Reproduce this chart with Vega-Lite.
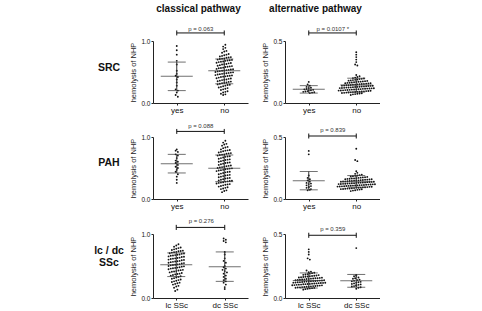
{
  "$schema": "https://vega.github.io/schema/vega-lite/v6.json",
  "padding": {"left": 94, "top": 3, "right": 0, "bottom": 0},
  "background": "white",
  "datasets": {
    "rows": [{"r": "SRC"}, {"r": "PAH"}, {"r": "lc / dc\nSSc"}],
    "st": [
      {"p": "cS", "g": "yes", "m": 0.43, "lo": 0.2, "hi": 0.66},
      {"p": "cS", "g": "no", "m": 0.52, "lo": 0.31, "hi": 0.71},
      {"p": "aS", "g": "yes", "m": 0.11, "lo": 0.08, "hi": 0.14},
      {"p": "aS", "g": "no", "m": 0.145, "lo": 0.088, "hi": 0.2},
      {"p": "cP", "g": "yes", "m": 0.57, "lo": 0.42, "hi": 0.72},
      {"p": "cP", "g": "no", "m": 0.495, "lo": 0.28, "hi": 0.71},
      {"p": "aP", "g": "yes", "m": 0.148, "lo": 0.074, "hi": 0.222},
      {"p": "aP", "g": "no", "m": 0.14, "lo": 0.095, "hi": 0.189},
      {"p": "cL", "g": "lc SSc", "m": 0.52, "lo": 0.335, "hi": 0.705},
      {"p": "cL", "g": "dc SSc", "m": 0.49, "lo": 0.26, "hi": 0.72},
      {"p": "aL", "g": "lc SSc", "m": 0.137, "lo": 0.078, "hi": 0.196},
      {"p": "aL", "g": "dc SSc", "m": 0.134, "lo": 0.084, "hi": 0.184}
    ],
    "pv": [
      {"p": "cS", "a": "yes", "b": "no", "t": "p = 0.063"},
      {"p": "aS", "a": "yes", "b": "no", "t": "p = 0.0107 *"},
      {"p": "cP", "a": "yes", "b": "no", "t": "p = 0.088"},
      {"p": "aP", "a": "yes", "b": "no", "t": "p = 0.839"},
      {"p": "cL", "a": "lc SSc", "b": "dc SSc", "t": "p = 0.276"},
      {"p": "aL", "a": "lc SSc", "b": "dc SSc", "t": "p = 0.359"}
    ],
    "pts": [
      {"p":"cS","g":"yes","v":0.92},{"p":"cS","g":"yes","v":0.85},{"p":"cS","g":"yes","v":0.78},{"p":"cS","g":"yes","v":0.68},{"p":"cS","g":"yes","v":0.62},{"p":"cS","g":"yes","v":0.52},{"p":"cS","g":"yes","v":0.47},{"p":"cS","g":"yes","v":0.44},{"p":"cS","g":"yes","v":0.42},{"p":"cS","g":"yes","v":0.38},{"p":"cS","g":"yes","v":0.33},{"p":"cS","g":"yes","v":0.28},{"p":"cS","g":"yes","v":0.22},{"p":"cS","g":"yes","v":0.2},{"p":"cS","g":"yes","v":0.17},{"p":"cS","g":"yes","v":0.13},{"p":"cS","g":"yes","v":0.1},
      {"p":"cS","g":"no","v":0.13},{"p":"cS","g":"no","v":0.14},{"p":"cS","g":"no","v":0.15},{"p":"cS","g":"no","v":0.17},{"p":"cS","g":"no","v":0.18},{"p":"cS","g":"no","v":0.19},{"p":"cS","g":"no","v":0.21},{"p":"cS","g":"no","v":0.22},{"p":"cS","g":"no","v":0.23},{"p":"cS","g":"no","v":0.24},
      {"p":"cS","g":"no","v":0.25},{"p":"cS","g":"no","v":0.26},{"p":"cS","g":"no","v":0.27},{"p":"cS","g":"no","v":0.28},{"p":"cS","g":"no","v":0.29},{"p":"cS","g":"no","v":0.295},{"p":"cS","g":"no","v":0.3},{"p":"cS","g":"no","v":0.31},{"p":"cS","g":"no","v":0.32},{"p":"cS","g":"no","v":0.325},{"p":"cS","g":"no","v":0.33},{"p":"cS","g":"no","v":0.34},{"p":"cS","g":"no","v":0.345},
      {"p":"cS","g":"no","v":0.35},{"p":"cS","g":"no","v":0.36},{"p":"cS","g":"no","v":0.37},{"p":"cS","g":"no","v":0.375},{"p":"cS","g":"no","v":0.38},{"p":"cS","g":"no","v":0.39},{"p":"cS","g":"no","v":0.395},{"p":"cS","g":"no","v":0.4},{"p":"cS","g":"no","v":0.41},{"p":"cS","g":"no","v":0.42},{"p":"cS","g":"no","v":0.425},{"p":"cS","g":"no","v":0.43},{"p":"cS","g":"no","v":0.435},{"p":"cS","g":"no","v":0.44},{"p":"cS","g":"no","v":0.445},
      {"p":"cS","g":"no","v":0.45},{"p":"cS","g":"no","v":0.46},{"p":"cS","g":"no","v":0.465},{"p":"cS","g":"no","v":0.47},{"p":"cS","g":"no","v":0.475},{"p":"cS","g":"no","v":0.48},{"p":"cS","g":"no","v":0.485},{"p":"cS","g":"no","v":0.49},{"p":"cS","g":"no","v":0.495},
      {"p":"cS","g":"no","v":0.5},{"p":"cS","g":"no","v":0.51},{"p":"cS","g":"no","v":0.515},{"p":"cS","g":"no","v":0.52},{"p":"cS","g":"no","v":0.525},{"p":"cS","g":"no","v":0.53},{"p":"cS","g":"no","v":0.535},{"p":"cS","g":"no","v":0.54},{"p":"cS","g":"no","v":0.545},
      {"p":"cS","g":"no","v":0.55},{"p":"cS","g":"no","v":0.56},{"p":"cS","g":"no","v":0.565},{"p":"cS","g":"no","v":0.57},{"p":"cS","g":"no","v":0.58},{"p":"cS","g":"no","v":0.585},{"p":"cS","g":"no","v":0.59},{"p":"cS","g":"no","v":0.595},
      {"p":"cS","g":"no","v":0.6},{"p":"cS","g":"no","v":0.61},{"p":"cS","g":"no","v":0.62},{"p":"cS","g":"no","v":0.625},{"p":"cS","g":"no","v":0.63},{"p":"cS","g":"no","v":0.64},{"p":"cS","g":"no","v":0.645},
      {"p":"cS","g":"no","v":0.65},{"p":"cS","g":"no","v":0.66},{"p":"cS","g":"no","v":0.665},{"p":"cS","g":"no","v":0.67},{"p":"cS","g":"no","v":0.68},{"p":"cS","g":"no","v":0.685},{"p":"cS","g":"no","v":0.69},{"p":"cS","g":"no","v":0.695},
      {"p":"cS","g":"no","v":0.7},{"p":"cS","g":"no","v":0.71},{"p":"cS","g":"no","v":0.715},{"p":"cS","g":"no","v":0.72},{"p":"cS","g":"no","v":0.73},{"p":"cS","g":"no","v":0.735},{"p":"cS","g":"no","v":0.74},
      {"p":"cS","g":"no","v":0.75},{"p":"cS","g":"no","v":0.76},{"p":"cS","g":"no","v":0.77},{"p":"cS","g":"no","v":0.78},{"p":"cS","g":"no","v":0.79},{"p":"cS","g":"no","v":0.81},{"p":"cS","g":"no","v":0.83},{"p":"cS","g":"no","v":0.84},{"p":"cS","g":"no","v":0.87},{"p":"cS","g":"no","v":0.89},{"p":"cS","g":"no","v":0.91},{"p":"cS","g":"no","v":0.94},

      {"p":"aS","g":"yes","v":0.17},{"p":"aS","g":"yes","v":0.15},{"p":"aS","g":"yes","v":0.14},{"p":"aS","g":"yes","v":0.13},{"p":"aS","g":"yes","v":0.12},{"p":"aS","g":"yes","v":0.123},{"p":"aS","g":"yes","v":0.11},{"p":"aS","g":"yes","v":0.113},{"p":"aS","g":"yes","v":0.1},{"p":"aS","g":"yes","v":0.103},{"p":"aS","g":"yes","v":0.106},{"p":"aS","g":"yes","v":0.09},{"p":"aS","g":"yes","v":0.093},{"p":"aS","g":"yes","v":0.096},{"p":"aS","g":"yes","v":0.08},{"p":"aS","g":"yes","v":0.084},{"p":"aS","g":"yes","v":0.087},
      {"p":"aS","g":"no","v":0.41},{"p":"aS","g":"no","v":0.39},{"p":"aS","g":"no","v":0.37},{"p":"aS","g":"no","v":0.35},{"p":"aS","g":"no","v":0.33},{"p":"aS","g":"no","v":0.31},{"p":"aS","g":"no","v":0.302},{"p":"aS","g":"no","v":0.226},
      {"p":"aS","g":"no","v":0.065},{"p":"aS","g":"no","v":0.07},{"p":"aS","g":"no","v":0.072},{"p":"aS","g":"no","v":0.075},{"p":"aS","g":"no","v":0.077},{"p":"aS","g":"no","v":0.079},
      {"p":"aS","g":"no","v":0.081},{"p":"aS","g":"no","v":0.082},{"p":"aS","g":"no","v":0.084},{"p":"aS","g":"no","v":0.085},{"p":"aS","g":"no","v":0.086},{"p":"aS","g":"no","v":0.088},{"p":"aS","g":"no","v":0.089},{"p":"aS","g":"no","v":0.09},{"p":"aS","g":"no","v":0.091},{"p":"aS","g":"no","v":0.093},{"p":"aS","g":"no","v":0.094},{"p":"aS","g":"no","v":0.096},{"p":"aS","g":"no","v":0.097},{"p":"aS","g":"no","v":0.099},
      {"p":"aS","g":"no","v":0.1},{"p":"aS","g":"no","v":0.101},{"p":"aS","g":"no","v":0.102},{"p":"aS","g":"no","v":0.104},{"p":"aS","g":"no","v":0.105},{"p":"aS","g":"no","v":0.106},{"p":"aS","g":"no","v":0.108},{"p":"aS","g":"no","v":0.109},{"p":"aS","g":"no","v":0.11},{"p":"aS","g":"no","v":0.111},{"p":"aS","g":"no","v":0.112},{"p":"aS","g":"no","v":0.114},{"p":"aS","g":"no","v":0.115},{"p":"aS","g":"no","v":0.116},{"p":"aS","g":"no","v":0.117},{"p":"aS","g":"no","v":0.118},{"p":"aS","g":"no","v":0.119},
      {"p":"aS","g":"no","v":0.12},{"p":"aS","g":"no","v":0.121},{"p":"aS","g":"no","v":0.122},{"p":"aS","g":"no","v":0.124},{"p":"aS","g":"no","v":0.125},{"p":"aS","g":"no","v":0.126},{"p":"aS","g":"no","v":0.128},{"p":"aS","g":"no","v":0.129},{"p":"aS","g":"no","v":0.13},{"p":"aS","g":"no","v":0.131},{"p":"aS","g":"no","v":0.133},{"p":"aS","g":"no","v":0.134},{"p":"aS","g":"no","v":0.135},{"p":"aS","g":"no","v":0.137},{"p":"aS","g":"no","v":0.138},{"p":"aS","g":"no","v":0.139},
      {"p":"aS","g":"no","v":0.14},{"p":"aS","g":"no","v":0.141},{"p":"aS","g":"no","v":0.143},{"p":"aS","g":"no","v":0.144},{"p":"aS","g":"no","v":0.145},{"p":"aS","g":"no","v":0.147},{"p":"aS","g":"no","v":0.148},{"p":"aS","g":"no","v":0.15},{"p":"aS","g":"no","v":0.151},{"p":"aS","g":"no","v":0.153},{"p":"aS","g":"no","v":0.154},{"p":"aS","g":"no","v":0.156},{"p":"aS","g":"no","v":0.157},{"p":"aS","g":"no","v":0.159},
      {"p":"aS","g":"no","v":0.16},{"p":"aS","g":"no","v":0.162},{"p":"aS","g":"no","v":0.163},{"p":"aS","g":"no","v":0.165},{"p":"aS","g":"no","v":0.167},{"p":"aS","g":"no","v":0.169},{"p":"aS","g":"no","v":0.171},{"p":"aS","g":"no","v":0.172},{"p":"aS","g":"no","v":0.174},{"p":"aS","g":"no","v":0.176},{"p":"aS","g":"no","v":0.178},
      {"p":"aS","g":"no","v":0.18},{"p":"aS","g":"no","v":0.182},{"p":"aS","g":"no","v":0.185},{"p":"aS","g":"no","v":0.187},{"p":"aS","g":"no","v":0.19},{"p":"aS","g":"no","v":0.193},{"p":"aS","g":"no","v":0.195},{"p":"aS","g":"no","v":0.198},
      {"p":"aS","g":"no","v":0.201},{"p":"aS","g":"no","v":0.205},{"p":"aS","g":"no","v":0.21},{"p":"aS","g":"no","v":0.216},

      {"p":"cP","g":"yes","v":0.8},{"p":"cP","g":"yes","v":0.78},{"p":"cP","g":"yes","v":0.76},{"p":"cP","g":"yes","v":0.72},{"p":"cP","g":"yes","v":0.7},{"p":"cP","g":"yes","v":0.66},{"p":"cP","g":"yes","v":0.62},{"p":"cP","g":"yes","v":0.6},{"p":"cP","g":"yes","v":0.58},{"p":"cP","g":"yes","v":0.55},{"p":"cP","g":"yes","v":0.52},{"p":"cP","g":"yes","v":0.5},{"p":"cP","g":"yes","v":0.47},{"p":"cP","g":"yes","v":0.44},{"p":"cP","g":"yes","v":0.4},{"p":"cP","g":"yes","v":0.36},{"p":"cP","g":"yes","v":0.31},{"p":"cP","g":"yes","v":0.26},
      {"p":"cP","g":"no","v":0.11},{"p":"cP","g":"no","v":0.13},{"p":"cP","g":"no","v":0.14},{"p":"cP","g":"no","v":0.16},{"p":"cP","g":"no","v":0.17},{"p":"cP","g":"no","v":0.18},{"p":"cP","g":"no","v":0.19},
      {"p":"cP","g":"no","v":0.2},{"p":"cP","g":"no","v":0.21},{"p":"cP","g":"no","v":0.22},{"p":"cP","g":"no","v":0.23},{"p":"cP","g":"no","v":0.235},{"p":"cP","g":"no","v":0.24},
      {"p":"cP","g":"no","v":0.25},{"p":"cP","g":"no","v":0.26},{"p":"cP","g":"no","v":0.265},{"p":"cP","g":"no","v":0.27},{"p":"cP","g":"no","v":0.28},{"p":"cP","g":"no","v":0.285},{"p":"cP","g":"no","v":0.29},{"p":"cP","g":"no","v":0.295},
      {"p":"cP","g":"no","v":0.3},{"p":"cP","g":"no","v":0.31},{"p":"cP","g":"no","v":0.32},{"p":"cP","g":"no","v":0.33},{"p":"cP","g":"no","v":0.335},{"p":"cP","g":"no","v":0.34},
      {"p":"cP","g":"no","v":0.35},{"p":"cP","g":"no","v":0.36},{"p":"cP","g":"no","v":0.37},{"p":"cP","g":"no","v":0.38},{"p":"cP","g":"no","v":0.385},{"p":"cP","g":"no","v":0.39},
      {"p":"cP","g":"no","v":0.4},{"p":"cP","g":"no","v":0.41},{"p":"cP","g":"no","v":0.42},{"p":"cP","g":"no","v":0.43},{"p":"cP","g":"no","v":0.435},{"p":"cP","g":"no","v":0.44},
      {"p":"cP","g":"no","v":0.45},{"p":"cP","g":"no","v":0.46},{"p":"cP","g":"no","v":0.465},{"p":"cP","g":"no","v":0.47},{"p":"cP","g":"no","v":0.48},{"p":"cP","g":"no","v":0.485},{"p":"cP","g":"no","v":0.49},{"p":"cP","g":"no","v":0.495},
      {"p":"cP","g":"no","v":0.5},{"p":"cP","g":"no","v":0.51},{"p":"cP","g":"no","v":0.515},{"p":"cP","g":"no","v":0.52},{"p":"cP","g":"no","v":0.53},{"p":"cP","g":"no","v":0.535},{"p":"cP","g":"no","v":0.54},
      {"p":"cP","g":"no","v":0.55},{"p":"cP","g":"no","v":0.56},{"p":"cP","g":"no","v":0.57},{"p":"cP","g":"no","v":0.58},{"p":"cP","g":"no","v":0.585},{"p":"cP","g":"no","v":0.59},
      {"p":"cP","g":"no","v":0.6},{"p":"cP","g":"no","v":0.61},{"p":"cP","g":"no","v":0.62},{"p":"cP","g":"no","v":0.63},{"p":"cP","g":"no","v":0.635},{"p":"cP","g":"no","v":0.64},
      {"p":"cP","g":"no","v":0.65},{"p":"cP","g":"no","v":0.66},{"p":"cP","g":"no","v":0.67},{"p":"cP","g":"no","v":0.68},{"p":"cP","g":"no","v":0.685},{"p":"cP","g":"no","v":0.69},
      {"p":"cP","g":"no","v":0.7},{"p":"cP","g":"no","v":0.71},{"p":"cP","g":"no","v":0.715},{"p":"cP","g":"no","v":0.72},{"p":"cP","g":"no","v":0.73},{"p":"cP","g":"no","v":0.735},{"p":"cP","g":"no","v":0.74},
      {"p":"cP","g":"no","v":0.75},{"p":"cP","g":"no","v":0.76},{"p":"cP","g":"no","v":0.77},{"p":"cP","g":"no","v":0.78},{"p":"cP","g":"no","v":0.785},{"p":"cP","g":"no","v":0.79},
      {"p":"cP","g":"no","v":0.8},{"p":"cP","g":"no","v":0.82},{"p":"cP","g":"no","v":0.83},{"p":"cP","g":"no","v":0.84},{"p":"cP","g":"no","v":0.86},{"p":"cP","g":"no","v":0.88},{"p":"cP","g":"no","v":0.89},{"p":"cP","g":"no","v":0.91},{"p":"cP","g":"no","v":0.94},

      {"p":"aP","g":"yes","v":0.388},{"p":"aP","g":"yes","v":0.36},{"p":"aP","g":"yes","v":0.19},{"p":"aP","g":"yes","v":0.17},{"p":"aP","g":"yes","v":0.16},{"p":"aP","g":"yes","v":0.15},{"p":"aP","g":"yes","v":0.14},{"p":"aP","g":"yes","v":0.13},{"p":"aP","g":"yes","v":0.12},{"p":"aP","g":"yes","v":0.124},{"p":"aP","g":"yes","v":0.11},{"p":"aP","g":"yes","v":0.1},{"p":"aP","g":"yes","v":0.104},{"p":"aP","g":"yes","v":0.09},{"p":"aP","g":"yes","v":0.094},{"p":"aP","g":"yes","v":0.08},{"p":"aP","g":"yes","v":0.07},{"p":"aP","g":"yes","v":0.074},
      {"p":"aP","g":"no","v":0.405},{"p":"aP","g":"no","v":0.315},{"p":"aP","g":"no","v":0.305},{"p":"aP","g":"no","v":0.224},
      {"p":"aP","g":"no","v":0.064},{"p":"aP","g":"no","v":0.068},{"p":"aP","g":"no","v":0.071},{"p":"aP","g":"no","v":0.074},{"p":"aP","g":"no","v":0.076},{"p":"aP","g":"no","v":0.079},
      {"p":"aP","g":"no","v":0.08},{"p":"aP","g":"no","v":0.081},{"p":"aP","g":"no","v":0.083},{"p":"aP","g":"no","v":0.084},{"p":"aP","g":"no","v":0.085},{"p":"aP","g":"no","v":0.087},{"p":"aP","g":"no","v":0.088},{"p":"aP","g":"no","v":0.09},{"p":"aP","g":"no","v":0.091},{"p":"aP","g":"no","v":0.092},{"p":"aP","g":"no","v":0.094},{"p":"aP","g":"no","v":0.095},{"p":"aP","g":"no","v":0.096},{"p":"aP","g":"no","v":0.098},{"p":"aP","g":"no","v":0.099},
      {"p":"aP","g":"no","v":0.1},{"p":"aP","g":"no","v":0.101},{"p":"aP","g":"no","v":0.102},{"p":"aP","g":"no","v":0.103},{"p":"aP","g":"no","v":0.105},{"p":"aP","g":"no","v":0.106},{"p":"aP","g":"no","v":0.107},{"p":"aP","g":"no","v":0.108},{"p":"aP","g":"no","v":0.109},{"p":"aP","g":"no","v":0.11},{"p":"aP","g":"no","v":0.111},{"p":"aP","g":"no","v":0.112},{"p":"aP","g":"no","v":0.113},{"p":"aP","g":"no","v":0.115},{"p":"aP","g":"no","v":0.116},{"p":"aP","g":"no","v":0.117},{"p":"aP","g":"no","v":0.118},{"p":"aP","g":"no","v":0.119},
      {"p":"aP","g":"no","v":0.12},{"p":"aP","g":"no","v":0.121},{"p":"aP","g":"no","v":0.122},{"p":"aP","g":"no","v":0.123},{"p":"aP","g":"no","v":0.125},{"p":"aP","g":"no","v":0.126},{"p":"aP","g":"no","v":0.127},{"p":"aP","g":"no","v":0.128},{"p":"aP","g":"no","v":0.13},{"p":"aP","g":"no","v":0.131},{"p":"aP","g":"no","v":0.132},{"p":"aP","g":"no","v":0.133},{"p":"aP","g":"no","v":0.134},{"p":"aP","g":"no","v":0.136},{"p":"aP","g":"no","v":0.137},{"p":"aP","g":"no","v":0.138},{"p":"aP","g":"no","v":0.139},
      {"p":"aP","g":"no","v":0.14},{"p":"aP","g":"no","v":0.141},{"p":"aP","g":"no","v":0.142},{"p":"aP","g":"no","v":0.144},{"p":"aP","g":"no","v":0.145},{"p":"aP","g":"no","v":0.146},{"p":"aP","g":"no","v":0.148},{"p":"aP","g":"no","v":0.149},{"p":"aP","g":"no","v":0.15},{"p":"aP","g":"no","v":0.152},{"p":"aP","g":"no","v":0.153},{"p":"aP","g":"no","v":0.155},{"p":"aP","g":"no","v":0.156},{"p":"aP","g":"no","v":0.157},{"p":"aP","g":"no","v":0.159},
      {"p":"aP","g":"no","v":0.16},{"p":"aP","g":"no","v":0.162},{"p":"aP","g":"no","v":0.163},{"p":"aP","g":"no","v":0.165},{"p":"aP","g":"no","v":0.166},{"p":"aP","g":"no","v":0.168},{"p":"aP","g":"no","v":0.17},{"p":"aP","g":"no","v":0.172},{"p":"aP","g":"no","v":0.174},{"p":"aP","g":"no","v":0.176},{"p":"aP","g":"no","v":0.178},
      {"p":"aP","g":"no","v":0.181},{"p":"aP","g":"no","v":0.184},{"p":"aP","g":"no","v":0.187},{"p":"aP","g":"no","v":0.19},{"p":"aP","g":"no","v":0.193},{"p":"aP","g":"no","v":0.197},{"p":"aP","g":"no","v":0.203},{"p":"aP","g":"no","v":0.211},

      {"p":"cL","g":"lc SSc","v":0.11},{"p":"cL","g":"lc SSc","v":0.13},{"p":"cL","g":"lc SSc","v":0.16},{"p":"cL","g":"lc SSc","v":0.18},{"p":"cL","g":"lc SSc","v":0.19},{"p":"cL","g":"lc SSc","v":0.21},{"p":"cL","g":"lc SSc","v":0.22},{"p":"cL","g":"lc SSc","v":0.23},{"p":"cL","g":"lc SSc","v":0.24},
      {"p":"cL","g":"lc SSc","v":0.25},{"p":"cL","g":"lc SSc","v":0.26},{"p":"cL","g":"lc SSc","v":0.27},{"p":"cL","g":"lc SSc","v":0.28},{"p":"cL","g":"lc SSc","v":0.29},
      {"p":"cL","g":"lc SSc","v":0.3},{"p":"cL","g":"lc SSc","v":0.31},{"p":"cL","g":"lc SSc","v":0.32},{"p":"cL","g":"lc SSc","v":0.33},{"p":"cL","g":"lc SSc","v":0.34},
      {"p":"cL","g":"lc SSc","v":0.35},{"p":"cL","g":"lc SSc","v":0.36},{"p":"cL","g":"lc SSc","v":0.37},{"p":"cL","g":"lc SSc","v":0.375},{"p":"cL","g":"lc SSc","v":0.38},{"p":"cL","g":"lc SSc","v":0.39},
      {"p":"cL","g":"lc SSc","v":0.4},{"p":"cL","g":"lc SSc","v":0.41},{"p":"cL","g":"lc SSc","v":0.415},{"p":"cL","g":"lc SSc","v":0.42},{"p":"cL","g":"lc SSc","v":0.43},{"p":"cL","g":"lc SSc","v":0.435},{"p":"cL","g":"lc SSc","v":0.44},
      {"p":"cL","g":"lc SSc","v":0.45},{"p":"cL","g":"lc SSc","v":0.46},{"p":"cL","g":"lc SSc","v":0.465},{"p":"cL","g":"lc SSc","v":0.47},{"p":"cL","g":"lc SSc","v":0.475},{"p":"cL","g":"lc SSc","v":0.48},{"p":"cL","g":"lc SSc","v":0.49},{"p":"cL","g":"lc SSc","v":0.495},
      {"p":"cL","g":"lc SSc","v":0.5},{"p":"cL","g":"lc SSc","v":0.51},{"p":"cL","g":"lc SSc","v":0.515},{"p":"cL","g":"lc SSc","v":0.52},{"p":"cL","g":"lc SSc","v":0.525},{"p":"cL","g":"lc SSc","v":0.53},{"p":"cL","g":"lc SSc","v":0.54},{"p":"cL","g":"lc SSc","v":0.545},
      {"p":"cL","g":"lc SSc","v":0.55},{"p":"cL","g":"lc SSc","v":0.56},{"p":"cL","g":"lc SSc","v":0.565},{"p":"cL","g":"lc SSc","v":0.57},{"p":"cL","g":"lc SSc","v":0.575},{"p":"cL","g":"lc SSc","v":0.58},{"p":"cL","g":"lc SSc","v":0.59},{"p":"cL","g":"lc SSc","v":0.595},
      {"p":"cL","g":"lc SSc","v":0.6},{"p":"cL","g":"lc SSc","v":0.61},{"p":"cL","g":"lc SSc","v":0.615},{"p":"cL","g":"lc SSc","v":0.62},{"p":"cL","g":"lc SSc","v":0.625},{"p":"cL","g":"lc SSc","v":0.63},{"p":"cL","g":"lc SSc","v":0.64},{"p":"cL","g":"lc SSc","v":0.645},
      {"p":"cL","g":"lc SSc","v":0.65},{"p":"cL","g":"lc SSc","v":0.66},{"p":"cL","g":"lc SSc","v":0.665},{"p":"cL","g":"lc SSc","v":0.67},{"p":"cL","g":"lc SSc","v":0.675},{"p":"cL","g":"lc SSc","v":0.68},{"p":"cL","g":"lc SSc","v":0.69},{"p":"cL","g":"lc SSc","v":0.695},
      {"p":"cL","g":"lc SSc","v":0.7},{"p":"cL","g":"lc SSc","v":0.71},{"p":"cL","g":"lc SSc","v":0.715},{"p":"cL","g":"lc SSc","v":0.72},{"p":"cL","g":"lc SSc","v":0.73},{"p":"cL","g":"lc SSc","v":0.735},{"p":"cL","g":"lc SSc","v":0.74},
      {"p":"cL","g":"lc SSc","v":0.75},{"p":"cL","g":"lc SSc","v":0.76},{"p":"cL","g":"lc SSc","v":0.77},{"p":"cL","g":"lc SSc","v":0.78},{"p":"cL","g":"lc SSc","v":0.79},{"p":"cL","g":"lc SSc","v":0.8},{"p":"cL","g":"lc SSc","v":0.82},{"p":"cL","g":"lc SSc","v":0.84},
      {"p":"cL","g":"dc SSc","v":0.93},{"p":"cL","g":"dc SSc","v":0.91},{"p":"cL","g":"dc SSc","v":0.89},{"p":"cL","g":"dc SSc","v":0.87},{"p":"cL","g":"dc SSc","v":0.72},{"p":"cL","g":"dc SSc","v":0.68},{"p":"cL","g":"dc SSc","v":0.62},{"p":"cL","g":"dc SSc","v":0.58},{"p":"cL","g":"dc SSc","v":0.55},{"p":"cL","g":"dc SSc","v":0.5},{"p":"cL","g":"dc SSc","v":0.48},{"p":"cL","g":"dc SSc","v":0.46},{"p":"cL","g":"dc SSc","v":0.44},{"p":"cL","g":"dc SSc","v":0.42},{"p":"cL","g":"dc SSc","v":0.4},{"p":"cL","g":"dc SSc","v":0.38},{"p":"cL","g":"dc SSc","v":0.35},{"p":"cL","g":"dc SSc","v":0.33},{"p":"cL","g":"dc SSc","v":0.3},{"p":"cL","g":"dc SSc","v":0.28},{"p":"cL","g":"dc SSc","v":0.26},{"p":"cL","g":"dc SSc","v":0.24},{"p":"cL","g":"dc SSc","v":0.21},{"p":"cL","g":"dc SSc","v":0.17},{"p":"cL","g":"dc SSc","v":0.14},

      {"p":"aL","g":"lc SSc","v":0.38},{"p":"aL","g":"lc SSc","v":0.36},{"p":"aL","g":"lc SSc","v":0.34},{"p":"aL","g":"lc SSc","v":0.31},{"p":"aL","g":"lc SSc","v":0.3},{"p":"aL","g":"lc SSc","v":0.215},
      {"p":"aL","g":"lc SSc","v":0.065},{"p":"aL","g":"lc SSc","v":0.069},{"p":"aL","g":"lc SSc","v":0.072},{"p":"aL","g":"lc SSc","v":0.075},{"p":"aL","g":"lc SSc","v":0.077},{"p":"aL","g":"lc SSc","v":0.079},
      {"p":"aL","g":"lc SSc","v":0.08},{"p":"aL","g":"lc SSc","v":0.082},{"p":"aL","g":"lc SSc","v":0.083},{"p":"aL","g":"lc SSc","v":0.085},{"p":"aL","g":"lc SSc","v":0.086},{"p":"aL","g":"lc SSc","v":0.088},{"p":"aL","g":"lc SSc","v":0.089},{"p":"aL","g":"lc SSc","v":0.091},{"p":"aL","g":"lc SSc","v":0.093},{"p":"aL","g":"lc SSc","v":0.094},{"p":"aL","g":"lc SSc","v":0.096},{"p":"aL","g":"lc SSc","v":0.097},{"p":"aL","g":"lc SSc","v":0.099},
      {"p":"aL","g":"lc SSc","v":0.1},{"p":"aL","g":"lc SSc","v":0.101},{"p":"aL","g":"lc SSc","v":0.103},{"p":"aL","g":"lc SSc","v":0.104},{"p":"aL","g":"lc SSc","v":0.105},{"p":"aL","g":"lc SSc","v":0.107},{"p":"aL","g":"lc SSc","v":0.108},{"p":"aL","g":"lc SSc","v":0.109},{"p":"aL","g":"lc SSc","v":0.11},{"p":"aL","g":"lc SSc","v":0.112},{"p":"aL","g":"lc SSc","v":0.113},{"p":"aL","g":"lc SSc","v":0.114},{"p":"aL","g":"lc SSc","v":0.116},{"p":"aL","g":"lc SSc","v":0.117},{"p":"aL","g":"lc SSc","v":0.118},{"p":"aL","g":"lc SSc","v":0.119},
      {"p":"aL","g":"lc SSc","v":0.12},{"p":"aL","g":"lc SSc","v":0.121},{"p":"aL","g":"lc SSc","v":0.123},{"p":"aL","g":"lc SSc","v":0.124},{"p":"aL","g":"lc SSc","v":0.125},{"p":"aL","g":"lc SSc","v":0.127},{"p":"aL","g":"lc SSc","v":0.128},{"p":"aL","g":"lc SSc","v":0.129},{"p":"aL","g":"lc SSc","v":0.13},{"p":"aL","g":"lc SSc","v":0.132},{"p":"aL","g":"lc SSc","v":0.133},{"p":"aL","g":"lc SSc","v":0.135},{"p":"aL","g":"lc SSc","v":0.136},{"p":"aL","g":"lc SSc","v":0.137},{"p":"aL","g":"lc SSc","v":0.139},
      {"p":"aL","g":"lc SSc","v":0.14},{"p":"aL","g":"lc SSc","v":0.142},{"p":"aL","g":"lc SSc","v":0.143},{"p":"aL","g":"lc SSc","v":0.145},{"p":"aL","g":"lc SSc","v":0.146},{"p":"aL","g":"lc SSc","v":0.148},{"p":"aL","g":"lc SSc","v":0.149},{"p":"aL","g":"lc SSc","v":0.151},{"p":"aL","g":"lc SSc","v":0.152},{"p":"aL","g":"lc SSc","v":0.154},{"p":"aL","g":"lc SSc","v":0.155},{"p":"aL","g":"lc SSc","v":0.157},{"p":"aL","g":"lc SSc","v":0.159},
      {"p":"aL","g":"lc SSc","v":0.16},{"p":"aL","g":"lc SSc","v":0.162},{"p":"aL","g":"lc SSc","v":0.164},{"p":"aL","g":"lc SSc","v":0.166},{"p":"aL","g":"lc SSc","v":0.168},{"p":"aL","g":"lc SSc","v":0.17},{"p":"aL","g":"lc SSc","v":0.172},{"p":"aL","g":"lc SSc","v":0.174},{"p":"aL","g":"lc SSc","v":0.176},{"p":"aL","g":"lc SSc","v":0.179},
      {"p":"aL","g":"lc SSc","v":0.181},{"p":"aL","g":"lc SSc","v":0.184},{"p":"aL","g":"lc SSc","v":0.187},{"p":"aL","g":"lc SSc","v":0.19},{"p":"aL","g":"lc SSc","v":0.194},{"p":"aL","g":"lc SSc","v":0.197},{"p":"aL","g":"lc SSc","v":0.201},{"p":"aL","g":"lc SSc","v":0.206},
      {"p":"aL","g":"dc SSc","v":0.39},{"p":"aL","g":"dc SSc","v":0.18},{"p":"aL","g":"dc SSc","v":0.17},{"p":"aL","g":"dc SSc","v":0.174},{"p":"aL","g":"dc SSc","v":0.16},{"p":"aL","g":"dc SSc","v":0.15},{"p":"aL","g":"dc SSc","v":0.154},{"p":"aL","g":"dc SSc","v":0.14},{"p":"aL","g":"dc SSc","v":0.144},{"p":"aL","g":"dc SSc","v":0.13},{"p":"aL","g":"dc SSc","v":0.134},{"p":"aL","g":"dc SSc","v":0.12},{"p":"aL","g":"dc SSc","v":0.123},{"p":"aL","g":"dc SSc","v":0.126},{"p":"aL","g":"dc SSc","v":0.11},{"p":"aL","g":"dc SSc","v":0.114},{"p":"aL","g":"dc SSc","v":0.1},{"p":"aL","g":"dc SSc","v":0.103},{"p":"aL","g":"dc SSc","v":0.106},{"p":"aL","g":"dc SSc","v":0.09},{"p":"aL","g":"dc SSc","v":0.093},{"p":"aL","g":"dc SSc","v":0.096},{"p":"aL","g":"dc SSc","v":0.08},{"p":"aL","g":"dc SSc","v":0.084},{"p":"aL","g":"dc SSc","v":0.072}
    ]
  },
  "spacing": 5,
  "hconcat": [
    {
      "width": 30,
      "height": {"step": 94.5},
      "data": {"name": "rows"},
      "encoding": {
        "y": {"field": "r", "type": "nominal", "axis": null, "scale": {"type": "point", "domain": ["SRC", "PAH", "lc / dc\nSSc"], "padding": 0.29}},
        "text": {"field": "r"}
      },
      "layer": [
        {
          "transform": [{"filter": "indexof(datum.r, '\\n') < 0"}],
          "mark": {"type": "text", "fontSize": 10.5, "fontWeight": "bold", "color": "#111", "align": "center", "baseline": "middle"}
        },
        {
          "transform": [{"filter": "indexof(datum.r, '\\n') >= 0"}],
          "mark": {"type": "text", "fontSize": 10.5, "fontWeight": "bold", "color": "#111", "align": "center", "baseline": "middle", "lineBreak": "\n", "lineHeight": 12, "dy": -6}
        }
      ]
    },
    {
      "spacing": 8,
      "vconcat": [
        {
          "spacing": 13,
          "hconcat": [
            {
              "title": {"text": "classical pathway", "fontSize": 10, "fontWeight": "bold", "color": "#111", "anchor": "middle", "frame": "group", "offset": 12, "dx": -2},
              "width": 95, "height": 62,
              "layer": [
                {
                  "data": {"name": "pts"},
                  "transform": [
                    {"filter": "datum.p == 'cS'"},
                    {"bin": {"step": 0.05}, "field": "v", "as": "b"},
                    {"window": [{"op": "row_number", "as": "r"}], "groupby": ["g", "b"]},
                    {"joinaggregate": [{"op": "count", "as": "n"}], "groupby": ["g", "b"]},
                    {"calculate": "datum.r - (datum.n + 1) / 2", "as": "off"}
                  ],
                  "mark": {"type": "circle", "size": 3.5, "color": "#111", "opacity": 1},
                  "encoding": {
                    "x": {"field": "g", "type": "nominal", "title": null, "scale": {"type": "point", "domain": ["yes", "no"], "padding": 0.5}},
                    "xOffset": {"field": "off", "type": "quantitative", "scale": {"domain": [-10, 10], "range": [-22, 22]}},
                    "y": {"field": "v", "type": "quantitative", "scale": {"domain": [0, 1]}, "axis": {"title": "hemolysis of NHP", "values": [0, 0.2, 0.4, 0.6, 0.8, 1], "format": ".1f"}}
                  }
                },
                {
                  "data": {"name": "st"},
                  "transform": [{"filter": "datum.p == 'cS'"}],
                  "encoding": {"x": {"field": "g", "type": "nominal", "title": null}},
                  "layer": [
                    {"mark": {"type": "tick", "size": 32, "thickness": 1, "color": "#333"}, "encoding": {"y": {"field": "m", "type": "quantitative"}}},
                    {"mark": {"type": "tick", "size": 18, "thickness": 1, "color": "#333"}, "encoding": {"y": {"field": "lo", "type": "quantitative"}}},
                    {"mark": {"type": "tick", "size": 18, "thickness": 1, "color": "#333"}, "encoding": {"y": {"field": "hi", "type": "quantitative"}}},
                    {"mark": {"type": "rule", "strokeWidth": 1, "color": "#333"}, "encoding": {"y": {"field": "lo", "type": "quantitative"}, "y2": {"field": "hi"}}}
                  ]
                },
                {
                  "data": {"name": "pv"},
                  "transform": [{"filter": "datum.p == 'cS'"}],
                  "layer": [
                    {"mark": {"type": "rule", "strokeWidth": 1, "color": "#111"}, "encoding": {"x": {"field": "a", "type": "nominal", "title": null}, "x2": {"field": "b"}, "y": {"datum": 1.13}}},
                    {"mark": {"type": "rule", "strokeWidth": 1, "color": "#111"}, "encoding": {"x": {"field": "a", "type": "nominal", "title": null}, "y": {"datum": 1.09}, "y2": {"datum": 1.17}}},
                    {"mark": {"type": "rule", "strokeWidth": 1, "color": "#111"}, "encoding": {"x": {"field": "b", "type": "nominal", "title": null}, "y": {"datum": 1.09}, "y2": {"datum": 1.17}}},
                    {"mark": {"type": "text", "fontSize": 6, "dx": 24, "color": "#333", "baseline": "middle"}, "encoding": {"x": {"field": "a", "type": "nominal", "title": null}, "y": {"datum": 1.2}, "text": {"field": "t"}}}
                  ]
                }
              ]
            },
            {
              "title": {"text": "alternative pathway", "fontSize": 10, "fontWeight": "bold", "color": "#111", "anchor": "middle", "frame": "group", "offset": 12, "dx": -17},
              "width": 95, "height": 62,
              "layer": [
                {
                  "data": {"name": "pts"},
                  "transform": [
                    {"filter": "datum.p == 'aS'"},
                    {"bin": {"step": 0.02}, "field": "v", "as": "b"},
                    {"window": [{"op": "row_number", "as": "r"}], "groupby": ["g", "b"]},
                    {"joinaggregate": [{"op": "count", "as": "n"}], "groupby": ["g", "b"]},
                    {"calculate": "datum.r - (datum.n + 1) / 2", "as": "off"}
                  ],
                  "mark": {"type": "circle", "size": 3.5, "color": "#111", "opacity": 1},
                  "encoding": {
                    "x": {"field": "g", "type": "nominal", "title": null, "scale": {"type": "point", "domain": ["yes", "no"], "padding": 0.5}},
                    "xOffset": {"field": "off", "type": "quantitative", "scale": {"domain": [-10, 10], "range": [-18, 18]}},
                    "y": {"field": "v", "type": "quantitative", "scale": {"domain": [0, 0.5]}, "axis": {"title": "hemolysis of NHP", "values": [0, 0.1, 0.2, 0.3, 0.4, 0.5], "format": ".1f"}}
                  }
                },
                {
                  "data": {"name": "st"},
                  "transform": [{"filter": "datum.p == 'aS'"}],
                  "encoding": {"x": {"field": "g", "type": "nominal", "title": null}},
                  "layer": [
                    {"mark": {"type": "tick", "size": 32, "thickness": 1, "color": "#333"}, "encoding": {"y": {"field": "m", "type": "quantitative"}}},
                    {"mark": {"type": "tick", "size": 18, "thickness": 1, "color": "#333"}, "encoding": {"y": {"field": "lo", "type": "quantitative"}}},
                    {"mark": {"type": "tick", "size": 18, "thickness": 1, "color": "#333"}, "encoding": {"y": {"field": "hi", "type": "quantitative"}}},
                    {"mark": {"type": "rule", "strokeWidth": 1, "color": "#333"}, "encoding": {"y": {"field": "lo", "type": "quantitative"}, "y2": {"field": "hi"}}}
                  ]
                },
                {
                  "data": {"name": "pv"},
                  "transform": [{"filter": "datum.p == 'aS'"}],
                  "layer": [
                    {"mark": {"type": "rule", "strokeWidth": 1, "color": "#111"}, "encoding": {"x": {"field": "a", "type": "nominal", "title": null}, "x2": {"field": "b"}, "y": {"datum": 0.565}}},
                    {"mark": {"type": "rule", "strokeWidth": 1, "color": "#111"}, "encoding": {"x": {"field": "a", "type": "nominal", "title": null}, "y": {"datum": 0.545}, "y2": {"datum": 0.585}}},
                    {"mark": {"type": "rule", "strokeWidth": 1, "color": "#111"}, "encoding": {"x": {"field": "b", "type": "nominal", "title": null}, "y": {"datum": 0.545}, "y2": {"datum": 0.585}}},
                    {"mark": {"type": "text", "fontSize": 6, "dx": 24, "color": "#333", "baseline": "middle"}, "encoding": {"x": {"field": "a", "type": "nominal", "title": null}, "y": {"datum": 0.6}, "text": {"field": "t"}}}
                  ]
                }
              ]
            }
          ]
        },
        {
          "spacing": 13,
          "hconcat": [
            {
              "width": 95, "height": 62,
              "layer": [
                {
                  "data": {"name": "pts"},
                  "transform": [
                    {"filter": "datum.p == 'cP'"},
                    {"bin": {"step": 0.05}, "field": "v", "as": "b"},
                    {"window": [{"op": "row_number", "as": "r"}], "groupby": ["g", "b"]},
                    {"joinaggregate": [{"op": "count", "as": "n"}], "groupby": ["g", "b"]},
                    {"calculate": "datum.r - (datum.n + 1) / 2", "as": "off"}
                  ],
                  "mark": {"type": "circle", "size": 3.5, "color": "#111", "opacity": 1},
                  "encoding": {
                    "x": {"field": "g", "type": "nominal", "title": null, "scale": {"type": "point", "domain": ["yes", "no"], "padding": 0.5}},
                    "xOffset": {"field": "off", "type": "quantitative", "scale": {"domain": [-10, 10], "range": [-22, 22]}},
                    "y": {"field": "v", "type": "quantitative", "scale": {"domain": [0, 1]}, "axis": {"title": "hemolysis of NHP", "values": [0, 0.2, 0.4, 0.6, 0.8, 1], "format": ".1f"}}
                  }
                },
                {
                  "data": {"name": "st"},
                  "transform": [{"filter": "datum.p == 'cP'"}],
                  "encoding": {"x": {"field": "g", "type": "nominal", "title": null}},
                  "layer": [
                    {"mark": {"type": "tick", "size": 32, "thickness": 1, "color": "#333"}, "encoding": {"y": {"field": "m", "type": "quantitative"}}},
                    {"mark": {"type": "tick", "size": 18, "thickness": 1, "color": "#333"}, "encoding": {"y": {"field": "lo", "type": "quantitative"}}},
                    {"mark": {"type": "tick", "size": 18, "thickness": 1, "color": "#333"}, "encoding": {"y": {"field": "hi", "type": "quantitative"}}},
                    {"mark": {"type": "rule", "strokeWidth": 1, "color": "#333"}, "encoding": {"y": {"field": "lo", "type": "quantitative"}, "y2": {"field": "hi"}}}
                  ]
                },
                {
                  "data": {"name": "pv"},
                  "transform": [{"filter": "datum.p == 'cP'"}],
                  "layer": [
                    {"mark": {"type": "rule", "strokeWidth": 1, "color": "#111"}, "encoding": {"x": {"field": "a", "type": "nominal", "title": null}, "x2": {"field": "b"}, "y": {"datum": 1.09}}},
                    {"mark": {"type": "rule", "strokeWidth": 1, "color": "#111"}, "encoding": {"x": {"field": "a", "type": "nominal", "title": null}, "y": {"datum": 1.05}, "y2": {"datum": 1.13}}},
                    {"mark": {"type": "rule", "strokeWidth": 1, "color": "#111"}, "encoding": {"x": {"field": "b", "type": "nominal", "title": null}, "y": {"datum": 1.05}, "y2": {"datum": 1.13}}},
                    {"mark": {"type": "text", "fontSize": 6, "dx": 24, "color": "#333", "baseline": "middle"}, "encoding": {"x": {"field": "a", "type": "nominal", "title": null}, "y": {"datum": 1.18}, "text": {"field": "t"}}}
                  ]
                }
              ]
            },
            {
              "width": 95, "height": 62,
              "layer": [
                {
                  "data": {"name": "pts"},
                  "transform": [
                    {"filter": "datum.p == 'aP'"},
                    {"bin": {"step": 0.02}, "field": "v", "as": "b"},
                    {"window": [{"op": "row_number", "as": "r"}], "groupby": ["g", "b"]},
                    {"joinaggregate": [{"op": "count", "as": "n"}], "groupby": ["g", "b"]},
                    {"calculate": "datum.r - (datum.n + 1) / 2", "as": "off"}
                  ],
                  "mark": {"type": "circle", "size": 3.5, "color": "#111", "opacity": 1},
                  "encoding": {
                    "x": {"field": "g", "type": "nominal", "title": null, "scale": {"type": "point", "domain": ["yes", "no"], "padding": 0.5}},
                    "xOffset": {"field": "off", "type": "quantitative", "scale": {"domain": [-10, 10], "range": [-18, 18]}},
                    "y": {"field": "v", "type": "quantitative", "scale": {"domain": [0, 0.5]}, "axis": {"title": "hemolysis of NHP", "values": [0, 0.1, 0.2, 0.3, 0.4, 0.5], "format": ".1f"}}
                  }
                },
                {
                  "data": {"name": "st"},
                  "transform": [{"filter": "datum.p == 'aP'"}],
                  "encoding": {"x": {"field": "g", "type": "nominal", "title": null}},
                  "layer": [
                    {"mark": {"type": "tick", "size": 32, "thickness": 1, "color": "#333"}, "encoding": {"y": {"field": "m", "type": "quantitative"}}},
                    {"mark": {"type": "tick", "size": 18, "thickness": 1, "color": "#333"}, "encoding": {"y": {"field": "lo", "type": "quantitative"}}},
                    {"mark": {"type": "tick", "size": 18, "thickness": 1, "color": "#333"}, "encoding": {"y": {"field": "hi", "type": "quantitative"}}},
                    {"mark": {"type": "rule", "strokeWidth": 1, "color": "#333"}, "encoding": {"y": {"field": "lo", "type": "quantitative"}, "y2": {"field": "hi"}}}
                  ]
                },
                {
                  "data": {"name": "pv"},
                  "transform": [{"filter": "datum.p == 'aP'"}],
                  "layer": [
                    {"mark": {"type": "rule", "strokeWidth": 1, "color": "#111"}, "encoding": {"x": {"field": "a", "type": "nominal", "title": null}, "x2": {"field": "b"}, "y": {"datum": 0.508}}},
                    {"mark": {"type": "rule", "strokeWidth": 1, "color": "#111"}, "encoding": {"x": {"field": "a", "type": "nominal", "title": null}, "y": {"datum": 0.488}, "y2": {"datum": 0.528}}},
                    {"mark": {"type": "rule", "strokeWidth": 1, "color": "#111"}, "encoding": {"x": {"field": "b", "type": "nominal", "title": null}, "y": {"datum": 0.488}, "y2": {"datum": 0.528}}},
                    {"mark": {"type": "text", "fontSize": 6, "dx": 24, "color": "#333", "baseline": "middle"}, "encoding": {"x": {"field": "a", "type": "nominal", "title": null}, "y": {"datum": 0.554}, "text": {"field": "t"}}}
                  ]
                }
              ]
            }
          ]
        },
        {
          "spacing": 13,
          "hconcat": [
            {
              "width": 95, "height": 64,
              "layer": [
                {
                  "data": {"name": "pts"},
                  "transform": [
                    {"filter": "datum.p == 'cL'"},
                    {"bin": {"step": 0.05}, "field": "v", "as": "b"},
                    {"window": [{"op": "row_number", "as": "r"}], "groupby": ["g", "b"]},
                    {"joinaggregate": [{"op": "count", "as": "n"}], "groupby": ["g", "b"]},
                    {"calculate": "datum.r - (datum.n + 1) / 2", "as": "off"}
                  ],
                  "mark": {"type": "circle", "size": 3.5, "color": "#111", "opacity": 1},
                  "encoding": {
                    "x": {"field": "g", "type": "nominal", "title": null, "scale": {"type": "point", "domain": ["lc SSc", "dc SSc"], "padding": 0.48}},
                    "xOffset": {"field": "off", "type": "quantitative", "scale": {"domain": [-10, 10], "range": [-22, 22]}},
                    "y": {"field": "v", "type": "quantitative", "scale": {"domain": [0, 1]}, "axis": {"title": "hemolysis of NHP", "values": [0, 0.2, 0.4, 0.6, 0.8, 1], "format": ".1f"}}
                  }
                },
                {
                  "data": {"name": "st"},
                  "transform": [{"filter": "datum.p == 'cL'"}],
                  "encoding": {"x": {"field": "g", "type": "nominal", "title": null}},
                  "layer": [
                    {"mark": {"type": "tick", "size": 32, "thickness": 1, "color": "#333"}, "encoding": {"y": {"field": "m", "type": "quantitative"}}},
                    {"mark": {"type": "tick", "size": 18, "thickness": 1, "color": "#333"}, "encoding": {"y": {"field": "lo", "type": "quantitative"}}},
                    {"mark": {"type": "tick", "size": 18, "thickness": 1, "color": "#333"}, "encoding": {"y": {"field": "hi", "type": "quantitative"}}},
                    {"mark": {"type": "rule", "strokeWidth": 1, "color": "#333"}, "encoding": {"y": {"field": "lo", "type": "quantitative"}, "y2": {"field": "hi"}}}
                  ]
                },
                {
                  "data": {"name": "pv"},
                  "transform": [{"filter": "datum.p == 'cL'"}],
                  "layer": [
                    {"mark": {"type": "rule", "strokeWidth": 1, "color": "#111"}, "encoding": {"x": {"field": "a", "type": "nominal", "title": null}, "x2": {"field": "b"}, "y": {"datum": 1.103}}},
                    {"mark": {"type": "rule", "strokeWidth": 1, "color": "#111"}, "encoding": {"x": {"field": "a", "type": "nominal", "title": null}, "y": {"datum": 1.063}, "y2": {"datum": 1.143}}},
                    {"mark": {"type": "rule", "strokeWidth": 1, "color": "#111"}, "encoding": {"x": {"field": "b", "type": "nominal", "title": null}, "y": {"datum": 1.063}, "y2": {"datum": 1.143}}},
                    {"mark": {"type": "text", "fontSize": 6, "dx": 25, "color": "#333", "baseline": "middle"}, "encoding": {"x": {"field": "a", "type": "nominal", "title": null}, "y": {"datum": 1.2}, "text": {"field": "t"}}}
                  ]
                }
              ]
            },
            {
              "width": 95, "height": 64,
              "layer": [
                {
                  "data": {"name": "pts"},
                  "transform": [
                    {"filter": "datum.p == 'aL'"},
                    {"bin": {"step": 0.02}, "field": "v", "as": "b"},
                    {"window": [{"op": "row_number", "as": "r"}], "groupby": ["g", "b"]},
                    {"joinaggregate": [{"op": "count", "as": "n"}], "groupby": ["g", "b"]},
                    {"calculate": "datum.r - (datum.n + 1) / 2", "as": "off"}
                  ],
                  "mark": {"type": "circle", "size": 3.5, "color": "#111", "opacity": 1},
                  "encoding": {
                    "x": {"field": "g", "type": "nominal", "title": null, "scale": {"type": "point", "domain": ["lc SSc", "dc SSc"], "padding": 0.5}},
                    "xOffset": {"field": "off", "type": "quantitative", "scale": {"domain": [-10, 10], "range": [-18, 18]}},
                    "y": {"field": "v", "type": "quantitative", "scale": {"domain": [0, 0.5]}, "axis": {"title": "hemolysis of NHP", "values": [0, 0.1, 0.2, 0.3, 0.4, 0.5], "format": ".1f"}}
                  }
                },
                {
                  "data": {"name": "st"},
                  "transform": [{"filter": "datum.p == 'aL'"}],
                  "encoding": {"x": {"field": "g", "type": "nominal", "title": null}},
                  "layer": [
                    {"mark": {"type": "tick", "size": 32, "thickness": 1, "color": "#333"}, "encoding": {"y": {"field": "m", "type": "quantitative"}}},
                    {"mark": {"type": "tick", "size": 18, "thickness": 1, "color": "#333"}, "encoding": {"y": {"field": "lo", "type": "quantitative"}}},
                    {"mark": {"type": "tick", "size": 18, "thickness": 1, "color": "#333"}, "encoding": {"y": {"field": "hi", "type": "quantitative"}}},
                    {"mark": {"type": "rule", "strokeWidth": 1, "color": "#333"}, "encoding": {"y": {"field": "lo", "type": "quantitative"}, "y2": {"field": "hi"}}}
                  ]
                },
                {
                  "data": {"name": "pv"},
                  "transform": [{"filter": "datum.p == 'aL'"}],
                  "layer": [
                    {"mark": {"type": "rule", "strokeWidth": 1, "color": "#111"}, "encoding": {"x": {"field": "a", "type": "nominal", "title": null}, "x2": {"field": "b"}, "y": {"datum": 0.49}}},
                    {"mark": {"type": "rule", "strokeWidth": 1, "color": "#111"}, "encoding": {"x": {"field": "a", "type": "nominal", "title": null}, "y": {"datum": 0.47}, "y2": {"datum": 0.51}}},
                    {"mark": {"type": "rule", "strokeWidth": 1, "color": "#111"}, "encoding": {"x": {"field": "b", "type": "nominal", "title": null}, "y": {"datum": 0.47}, "y2": {"datum": 0.51}}},
                    {"mark": {"type": "text", "fontSize": 6, "dx": 24, "color": "#333", "baseline": "middle"}, "encoding": {"x": {"field": "a", "type": "nominal", "title": null}, "y": {"datum": 0.538}, "text": {"field": "t"}}}
                  ]
                }
              ]
            }
          ]
        }
      ]
    }
  ],
  "config": {
    "font": "Liberation Sans",
    "view": {"stroke": null},
    "axis": {"grid": false, "domainColor": "#222", "tickColor": "#222", "labelColor": "#111", "titleColor": "#222", "titleFontWeight": "normal", "labelFont": "Liberation Sans", "titleFont": "Liberation Sans"},
    "axisX": {"labelAngle": 0, "labelFontSize": 8, "tickSize": 2, "labelPadding": 1},
    "axisY": {"labelFontSize": 6.5, "titleFontSize": 7.5, "tickSize": 2, "labelPadding": 1, "titlePadding": 3}
  }
}
